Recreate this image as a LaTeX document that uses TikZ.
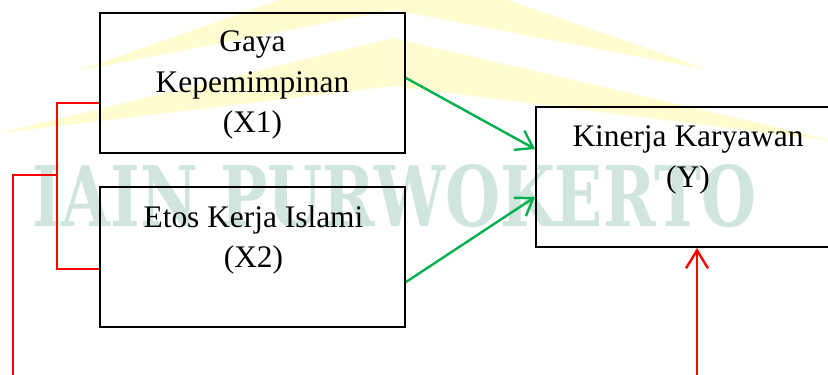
\documentclass[tikz,border=0pt]{standalone}
\usepackage{fontspec}
\setmainfont{Liberation Serif}
\newfontfamily\wmfont{DejaVu Serif}
\usetikzlibrary{arrows.meta}
\definecolor{wmgreen}{RGB}{208,230,220}
\definecolor{wmyellow}{RGB}{255,252,208}
\definecolor{argreen}{RGB}{0,176,80}
\definecolor{arred}{RGB}{255,0,0}
\tikzset{
  box/.style={draw=black, line width=1pt, inner sep=0pt, minimum width=152.5pt, minimum height=70pt},
  lbl/.style={anchor=base, inner sep=0pt},
  garrow/.style={draw=argreen, line width=1.2pt, -{Straight Barb[length=8pt,width=11pt]}},
  rline/.style={draw=arred, line width=1.4pt},
  rarrow/.style={draw=arred, line width=1.2pt, -{Straight Barb[length=9pt,width=11pt]}}
}
\begin{document}
\begin{tikzpicture}[x=0.5pt, y=-0.5pt, font=\fontsize{15.7}{20}\selectfont]
\useasboundingbox (0,0) rectangle (828,374);
% watermark
\fill[wmyellow] (77,71) -- (393,-40) -- (709,70) -- (393,10) -- cycle;
\fill[wmyellow] (0,133) -- (393,38) -- (840,142) -- (393,86) -- cycle;
\node[anchor=base west, inner sep=0pt, text=wmgreen] (wm) at (32,226)
  {\resizebox{362pt}{31pt}{\wmfont\bfseries IAIN PURWOKERTO}};
% boxes
\node[box] (b1) at (252.5,83) {};
\node[box] (b2) at (252.5,256.5) {};
\node[box, minimum width=152pt] (y) at (688,177) {};
% texts
\node[lbl] (t1a) at (252.5,52) {Gaya};
\node[lbl] (t1b) at (252.5,92) {Kepemimpinan};
\node[lbl] (t1c) at (252.5,132) {(X1)};
\node[lbl] (t2a) at (253.5,227) {Etos Kerja Islami};
\node[lbl] (t2b) at (253.5,267) {(X2)};
\node[lbl] (t3a) at (688,146) {Kinerja Karyawan};
\node[lbl] (t3b) at (688,187) {(Y)};
% green arrows
\draw[garrow] ([yshift=2.5pt]b1.east) -- ([yshift=14pt]y.west);
\draw[garrow] ([yshift=-12.75pt]b2.east) -- ([yshift=-10pt]y.west);
% red bracket
\coordinate (br) at (57,175);
\coordinate (lb) at (13,380);
\coordinate (rb) at (697,380);
\draw[rline] ([yshift=-10pt]b1.west) -| (br) |- ([yshift=-6.25pt]b2.west);
\draw[rline] (br) -| (lb);
\draw[rarrow] (rb) -- ([xshift=4.5pt]y.south);
\end{tikzpicture}
\end{document}
